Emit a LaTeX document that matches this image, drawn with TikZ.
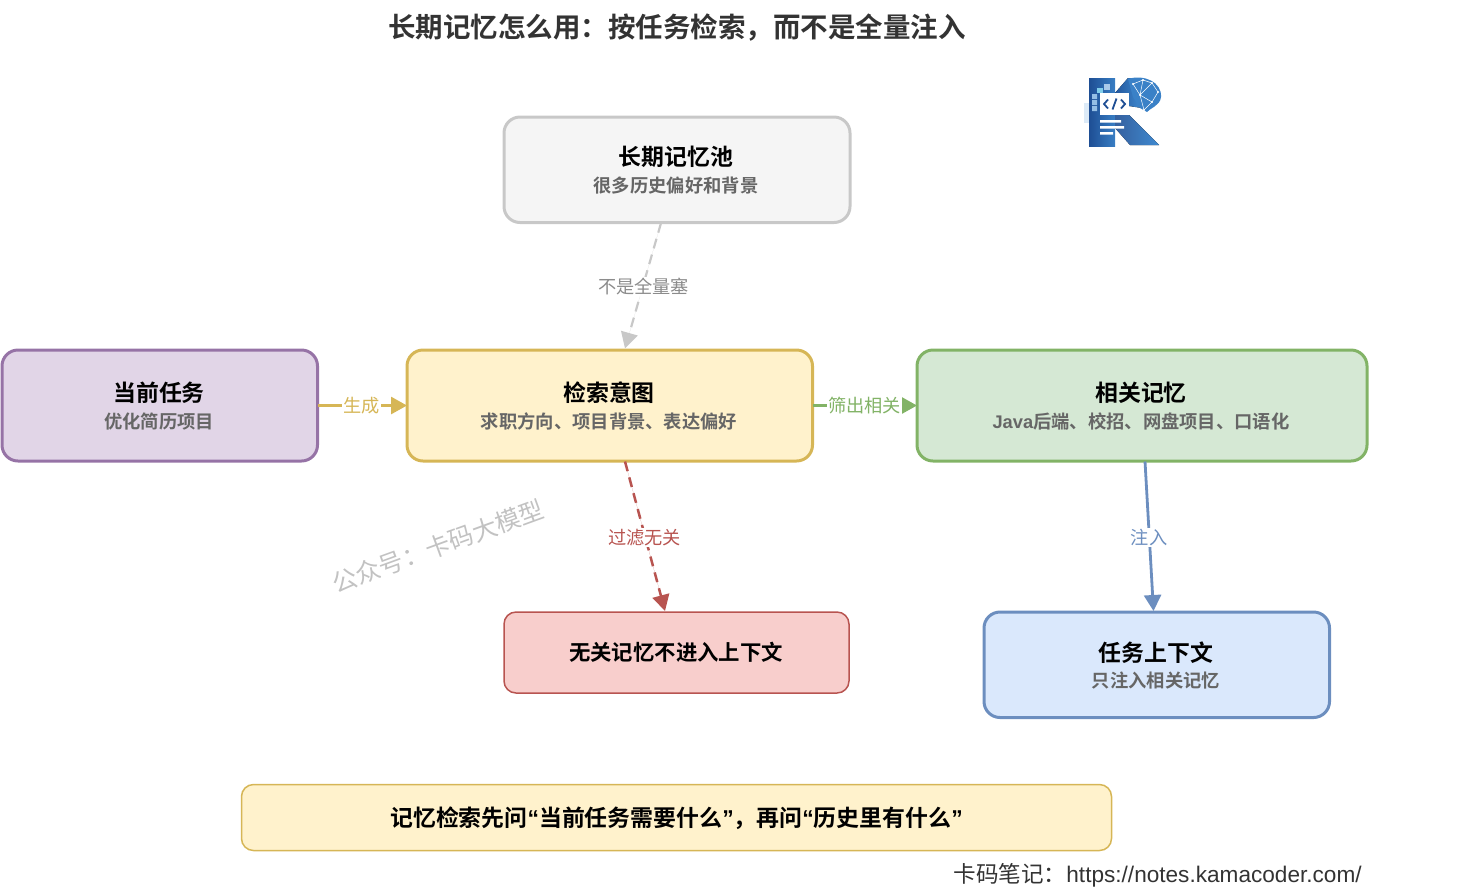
\documentclass[tikz,border=0pt]{standalone}
\usepackage{fontspec}
\setmainfont{Noto Sans CJK SC}
\newfontfamily\cjkb{Noto Sans CJK SC Bold}
\newfontfamily\lat{Liberation Sans}
\newfontfamily\latb{Liberation Sans Bold}
\usetikzlibrary{arrows.meta}
\definecolor{ink}{HTML}{333333}
\definecolor{subink}{HTML}{666666}
\definecolor{grayF}{HTML}{F5F5F5}\definecolor{grayD}{HTML}{C8C8C8}
\definecolor{purF}{HTML}{E1D5E7}\definecolor{purD}{HTML}{9673A6}
\definecolor{yelF}{HTML}{FFF2CC}\definecolor{yelD}{HTML}{D6B656}
\definecolor{greF}{HTML}{D5E8D4}\definecolor{greD}{HTML}{82B366}
\definecolor{redF}{HTML}{F8CECC}\definecolor{redD}{HTML}{B85450}
\definecolor{bluF}{HTML}{DAE8FC}\definecolor{bluD}{HTML}{6C8EBF}
\definecolor{logoA}{HTML}{1E4E94}\definecolor{logoB}{HTML}{3F8AD0}
\tikzset{
  x=0.5pt,y=-0.5pt,
  box/.style={line width=1.5pt,inner sep=0pt,outer sep=0pt,anchor=north west},
  head/.style={font=\cjkb\fontsize{11.45}{13}\selectfont,text=black,inner sep=0pt},
  sub/.style={font=\cjkb\fontsize{9.15}{11}\selectfont,text=subink,inner sep=0pt},
  lab/.style={font=\fontsize{9.1}{11}\selectfont,fill=white,inner sep=0.7pt},
  conn/.style={line width=1.4pt,-{Triangle[length=8pt,width=8.5pt]}},
  dash1/.style={dash pattern=on 5pt off 3.2pt},
}
\newcommand{\boxn}[8]{%
  \node[box,draw=#7,fill=#6,rounded corners=#8,minimum width=#4*0.5pt,minimum height=#5*0.5pt] (#1) at (#2,#3) {};}
\begin{document}
\begin{tikzpicture}
\useasboundingbox (0,0) rectangle (1459,890);
\node[font=\cjkb\fontsize{13.75}{15}\selectfont,text=ink,inner sep=0pt] (title) at (677,27.5) {长期记忆怎么用：按任务检索，而不是全量注入};
% logo
\fill[logoB!18] (1084,103) rectangle (1089,123);
\fill[left color=logoA,right color=logoB!80!logoA] (1089,78) -- (1115,78) -- (1115,146) -- (1089,146) -- cycle;
\fill[left color=logoA!90,right color=logoB] (1115,115) -- (1129,115) -- (1159,145) -- (1130,145) -- (1115,128) -- cycle;
\fill[left color=logoA!85!logoB,right color=logoB] (1115,93) -- (1128,78) -- (1142,78) -- (1142,108) -- (1129,106) -- cycle;
\fill[logoB!85!logoA] (1128,79) .. controls (1144,74) and (1162,82) .. (1161,97) .. controls (1160,106) and (1150,108) .. (1147,112) -- (1140,108) -- (1133,97) -- cycle;
\begin{scope}[white,line width=0.25pt]
\draw (1133,84) -- (1143,80) -- (1152,83) -- (1158,92) -- (1152,102) -- (1144,110) (1133,84) -- (1140,95) -- (1152,83) (1143,80) -- (1140,95) -- (1152,102) -- (1158,92) (1140,95) -- (1144,110);
\fill (1133,84) circle (1.2) (1143,80) circle (1.2) (1152,83) circle (1.2) (1158,92) circle (1.2) (1152,102) circle (1.2) (1140,95) circle (1.2) (1144,110) circle (1.2);
\end{scope}
\fill[white] (1100,93) rectangle (1129,115);
\fill[logoB!55] (1092,94) rectangle (1097,99) (1092,100) rectangle (1097,105) (1092,106) rectangle (1097,111);
\fill[logoB!70!cyan!60] (1097,88) rectangle (1103,93);
\fill[logoB!45] (1104,84) rectangle (1110,90);
\begin{scope}[draw=logoA,line width=0.9pt]
\draw (1108,99.5) -- (1104,104) -- (1108,108.5);
\draw (1121,99.5) -- (1125,104) -- (1121,108.5);
\draw (1116.5,98.5) -- (1112.5,109.5);
\end{scope}
\fill[white] (1100,120) rectangle (1121,122.5) (1100,126) rectangle (1124,128.5) (1100,132) rectangle (1113,134.5);
% boxes
\boxn{pool}{504}{117}{346}{105.5}{grayF}{grayD}{8pt}
\boxn{task}{2}{350}{315.5}{111}{purF}{purD}{8pt}
\boxn{intent}{407}{350}{405.5}{111}{yelF}{yelD}{8pt}
\boxn{rel}{917}{350}{450}{111}{greF}{greD}{8pt}
\boxn{ctx}{984}{612}{345.5}{105.5}{bluF}{bluD}{8pt}
\node[box,draw=redD,fill=redF,line width=0.75pt,rounded corners=6pt,minimum width=172.5pt,minimum height=40.5pt] (drop) at (504,612) {};
\node[box,draw=yelD,fill=yelF,line width=0.75pt,rounded corners=6pt,minimum width=435pt,minimum height=33pt] (note) at (241.5,784.5) {};
% box text
\node[head] (pooltitle) at (676,157) {长期记忆池};
\node[sub] (poolsub) at (676,185.5) {很多历史偏好和背景};
\node[head] (tasktitle) at (159,392.5) {当前任务};
\node[sub] (tasksub) at (159,421.5) {优化简历项目};
\node[head] (intenttitle) at (609,392.5) {检索意图};
\node[sub] (intentsub) at (609,421.5) {求职方向、项目背景、表达偏好};
\node[head] (reltitle) at (1141,392.5) {相关记忆};
\node[sub] (relsub) at (1141,421.5) {{\latb Java}后端、校招、网盘项目、口语化};
\node[head] (ctxtitle) at (1156,652.5) {任务上下文};
\node[sub] (ctxsub) at (1156,680.5) {只注入相关记忆};
\node[head,font=\cjkb\fontsize{10.7}{13}\selectfont] (droptext) at (676,652.5) {无关记忆不进入上下文};
\node[head,font=\cjkb\fontsize{11.45}{13}\selectfont] (notetext) at (676.5,818) {记忆检索先问{\latb “}当前任务需要什么{\latb ”}，再问{\latb “}历史里有什么{\latb ”}};
% connectors
\coordinate (a1) at (661,223); \coordinate (a2) at (625,348.5);
\draw[conn,draw=grayD,fill=grayD,line width=1.1pt,dash1] (a1) -- (a2);
\node[lab,text=black!45] (l1) at (643.5,286.5) {不是全量塞};
\draw[conn,draw=yelD,fill=yelD] (task.east) -- (intent.west);
\node[lab,text=yelD] (l2) at (361.5,406) {生成};
\draw[conn,draw=greD,fill=greD] (intent.east) -- (rel.west);
\node[lab,text=greD] (l3) at (864.5,406) {筛出相关};
\coordinate (b1) at (625,461.5); \coordinate (b2) at (665,611);
\draw[conn,draw=redD,fill=redD,line width=1.25pt,dash1] (b1) -- (b2);
\node[lab,text=redD] (l4) at (644.5,537.5) {过滤无关};
\coordinate (c1) at (1145,461.5); \coordinate (c2) at (1153.5,611);
\draw[conn,draw=bluD,fill=bluD] (c1) -- (c2);
\node[lab,text=bluD] (l5) at (1149,537.5) {注入};
% watermark
\node[rotate=20,font=\fontsize{12.4}{15}\selectfont,text=black!24,inner sep=0pt] (wm) at (438,546) {公众号：卡码大模型};
\node[font=\fontsize{11.3}{13}\selectfont,text=ink,inner sep=0pt,anchor=east] (foot) at (1362,875) {卡码笔记：{\lat https://notes.kamacoder.com/}};
\end{tikzpicture}
\end{document}
